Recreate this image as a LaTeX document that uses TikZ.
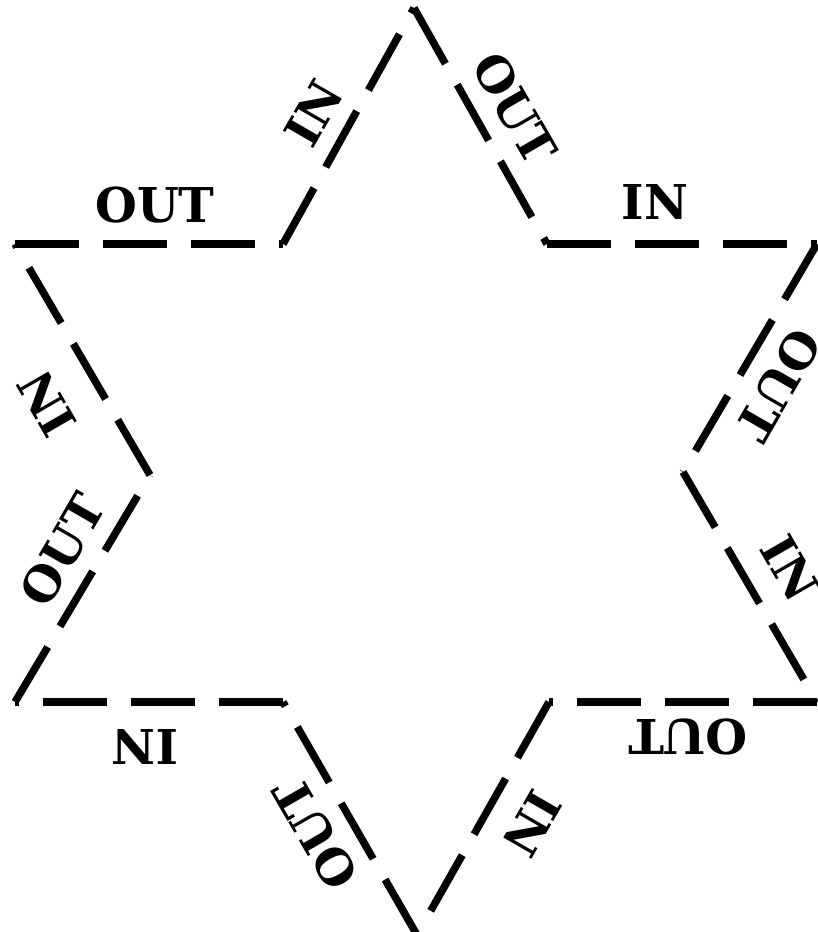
\documentclass[tikz,border=0pt]{standalone}
\usepackage{fontspec}
\setmainfont{DejaVu Serif}
\begin{document}
\begin{tikzpicture}[x=0.5pt,y=-0.5pt,
  edge/.style={line width=3.75pt, dash pattern=on 32pt off 12pt},
  lbl/.style={font=\bfseries\fontsize{24}{24}\selectfont, inner sep=0pt}]
\useasboundingbox (0,0) rectangle (818,932);
% vertices (clockwise from top)
\coordinate (T)   at (414,8);
\coordinate (URI) at (547,244);
\coordinate (RO)  at (817,244);
\coordinate (RI)  at (683,472);
\coordinate (BRO) at (817,702);
\coordinate (LRI) at (549,702);
\coordinate (B)   at (417,935);
\coordinate (LLI) at (283,702);
\coordinate (BLO) at (15,702);
\coordinate (LI)  at (150,475);
\coordinate (LO)  at (15,244);
\coordinate (ULI) at (283,244);
% edges
\draw[edge] (T) -- (URI);
\draw[edge] (URI) -- (RO);
\draw[edge] (RO) -- (RI);
\draw[edge] (RI) -- (BRO);
\draw[edge] (BRO) -- (LRI);
\draw[edge] (LRI) -- (B);
\draw[edge] (B) -- (LLI);
\draw[edge] (LLI) -- (BLO);
\draw[edge] (BLO) -- (LI);
\draw[edge] (LI) -- (LO);
\draw[edge] (LO) -- (ULI);
\draw[edge] (ULI) -- (T);
% labels
\node[lbl, rotate=60]   (l1)  at (314,113)   {IN};
\node[lbl, rotate=-60]  (l2)  at (515,108.5) {OUT};
\node[lbl]              (l3)  at (655,202)   {IN};
\node[lbl, rotate=-120] (l4)  at (778.5,385) {OUT};
\node[lbl, rotate=-60]  (l5)  at (790,568)   {IN};
\node[lbl, rotate=180]  (l6)  at (688,737)   {OUT};
\node[lbl, rotate=-120] (l7)  at (532.5,824) {IN};
\node[lbl, rotate=120]  (l8)  at (315.5,834) {OUT};
\node[lbl, rotate=180]  (l9)  at (145,747)   {IN};
\node[lbl, rotate=60]   (l10) at (62.5,550)  {OUT};
\node[lbl, rotate=120]  (l11) at (46.5,403.5){IN};
\node[lbl]              (l12) at (155,205.5) {OUT};
\end{tikzpicture}
\end{document}
